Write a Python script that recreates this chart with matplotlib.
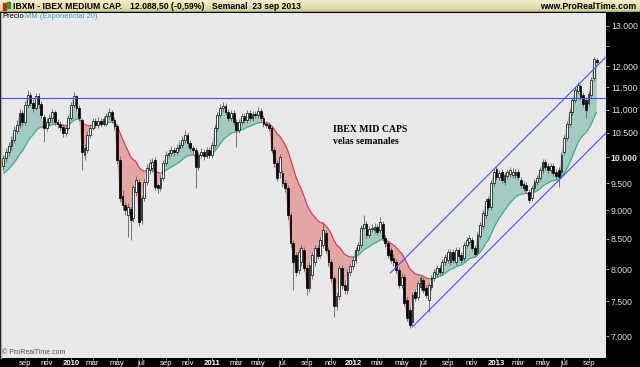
import numpy as np
import pandas as pd
import matplotlib
matplotlib.use("Agg")
import matplotlib.pyplot as plt
import matplotlib.dates as mdates
from matplotlib.collections import LineCollection
from matplotlib.patches import Rectangle
from matplotlib.ticker import NullLocator
from matplotlib.colors import LinearSegmentedColormap

# ---------------- data ----------------
start_date = "2009-07-13"
n_weeks = 220
dates = pd.date_range(start_date, periods=n_weeks, freq="7D")

open_ = [
    9830, 9985, 10110, 10230, 10350, 10540, 10665, 10925, 10730, 11100,
    11325, 11145, 11035, 11305, 11125, 10840, 10605, 10730, 10815, 10945,
    10730, 10690, 10625, 10500, 10605, 10815, 11100, 11305, 11035, 10775,
    10045, 10150, 10455, 10605, 10755, 10665, 10755, 10690, 10690, 10860, 10945,
    10775, 10645, 9945, 9260, 9095, 8915, 9020, 8860, 9330, 9520,
    8825, 9220, 9520, 9750, 9790, 9945, 9465, 9405, 9595, 9890,
    10045, 10085, 10150, 10110, 10190, 10250, 10350, 10455, 10290, 10190,
    10150, 9810, 10045, 10110, 10025, 10150, 10045, 10250, 10605, 10880,
    11035, 11080, 10945, 10815, 10925, 10730, 10560, 10730, 10860, 10775,
    10925, 10815, 10905, 10880, 10970, 10815, 10690, 10665, 10605, 10150,
    9890, 9710, 9695, 9500, 9405, 8915, 8430, 8230, 7985, 8115,
    8310, 8020, 7705, 7905, 8115, 8345, 8230, 8395, 8600, 8310, 8115,
    7860, 7430, 7585, 8020, 7750, 7675, 7955, 8050, 8145, 8310,
    8395, 8685, 8755, 8565, 8665, 8650, 8700, 8650, 8755, 8515,
    8430, 8310, 8180, 8115, 7985, 7750, 7875, 7520, 7375, 7200,
    7645, 7570, 7720, 7830, 7705, 7520, 7720, 7860, 7925, 8020,
    7955, 8115, 8145, 8115, 8280, 8115, 8310, 8230, 8180, 8395,
    8445, 8480, 8345, 8280, 8545, 8720, 8915, 9200, 9055, 9500,
    9770, 9615, 9710, 9520, 9635, 9675, 9655, 9655, 9710, 9560, 9480,
    9465, 9330, 9220, 9405, 9520, 9595, 9750, 9905, 9830, 9750,
    9830, 9710, 9750, 9710, 10110, 10395, 10690, 10945, 11215, 11415,
    11530, 11325, 11215, 11145, 11325, 11715, 12140,
]
high = [
    10045, 10190, 10310, 10435, 10645, 10775, 11015, 10990, 11190, 11440,
    11395, 11235, 11370, 11370, 11190, 10905, 10815, 10905, 11015, 10990,
    10795, 10755, 10690, 10665, 10880, 11170, 11395, 11325, 11100, 10815,
    10290, 10540, 10690, 10815, 10815, 10840, 10815, 10860, 10925, 11035, 10990,
    10840, 10690, 10025, 9370, 9150, 9130, 9075, 9480, 9635, 9575,
    9275, 9595, 9870, 9965, 9985, 10005, 9500, 9655, 9945, 10130,
    10170, 10230, 10210, 10270, 10330, 10435, 10560, 10520, 10350, 10250,
    10210, 10110, 10190, 10170, 10210, 10210, 10310, 10665, 10945, 11125,
    11170, 11145, 11015, 10990, 10990, 10795, 10795, 10925, 10925, 10990,
    10990, 10970, 10970, 11055, 11035, 10880, 10755, 10730, 10645, 10210,
    9945, 10065, 9750, 9560, 9465, 8965, 8480, 8280, 8330, 8395,
    8360, 8065, 8115, 8280, 8395, 8395, 8545, 8790, 8650, 8360, 8165,
    7905, 7645, 8065, 8065, 7830, 8000, 8100, 8215, 8360, 8445,
    8735, 8915, 8805, 8720, 8755, 8770, 8755, 8875, 8805, 8565,
    8480, 8360, 8245, 8165, 8035, 7940, 7925, 7570, 7415, 7645,
    7690, 7830, 7905, 7875, 7750, 7795, 7905, 8000, 8065, 8065,
    8165, 8245, 8330, 8330, 8330, 8360, 8360, 8280, 8445, 8530,
    8565, 8530, 8395, 8615, 8790, 9000, 9220, 9260, 9560, 9790,
    9830, 9750, 9770, 9710, 9770, 9810, 9790, 9770, 9770, 9615, 9540,
    9520, 9390, 9465, 9575, 9655, 9810, 9965, 9965, 9890, 9890,
    9890, 9770, 9810, 10110, 10455, 10755, 11015, 11280, 11505, 11625,
    11575, 11395, 11280, 11415, 11740, 12210, 12195,
]
low = [
    9750, 9905, 10025, 10150, 10290, 10475, 10605, 10645, 10665, 11035,
    11080, 10945, 10990, 11035, 10815, 10310, 10540, 10645, 10710, 10665,
    10605, 10540, 10415, 10435, 10560, 10775, 11035, 10970, 10755, 9750,
    9945, 10085, 10395, 10560, 10605, 10605, 10625, 10645, 10645, 10795, 10710,
    10560, 9870, 9150, 9000, 8915, 8530, 8480, 8790, 9260, 8720,
    8755, 9165, 9465, 9675, 9710, 9370, 9315, 9350, 9540, 9830,
    9985, 10025, 10025, 10045, 10130, 10190, 10290, 10210, 10130, 10065,
    9405, 9750, 9985, 9945, 9985, 9985, 9985, 10190, 10540, 10815,
    10945, 10880, 10755, 10755, 10665, 10210, 10500, 10665, 10710, 10710,
    10755, 10755, 10815, 10815, 10755, 10625, 10605, 10540, 10085, 9810,
    9540, 9595, 9425, 9330, 8840, 8360, 7675, 7890, 7925, 8050,
    7970, 7600, 7645, 7845, 8050, 8165, 8180, 8345, 8260, 8050, 7795,
    7270, 7375, 7520, 7690, 7615, 7615, 7890, 7985, 8100, 8260,
    8345, 8650, 8515, 8515, 8615, 8600, 8565, 8600, 8460, 8360,
    8180, 8100, 8050, 7940, 7705, 7705, 7430, 7215, 7115, 7155,
    7505, 7520, 7675, 7630, 7555, 7345, 7675, 7815, 7875, 7905,
    7905, 8065, 8100, 8065, 8100, 8065, 8165, 8100, 8130, 8345,
    8395, 8295, 8195, 8230, 8495, 8665, 8860, 9000, 9000, 9445,
    9560, 9560, 9500, 9465, 9575, 9615, 9595, 9595, 9560, 9405, 9350,
    9315, 9130, 9165, 9350, 9465, 9540, 9695, 9750, 9695, 9695,
    9635, 9575, 9425, 9655, 10045, 10330, 10625, 10880, 11145, 11350,
    11215, 11055, 10815, 11080, 11260, 11645, 12060,
]
close = [
    9985, 10110, 10230, 10350, 10560, 10665, 10925, 10730, 11100, 11325,
    11145, 11035, 11305, 11125, 10880, 10605, 10730, 10815, 10945, 10730,
    10690, 10625, 10500, 10605, 10815, 11100, 11305, 11035, 10815, 10110,
    10190, 10455, 10605, 10755, 10665, 10755, 10690, 10795, 10860, 10945, 10775,
    10645, 9945, 9220, 9095, 9000, 9055, 8825, 9425, 9560, 8790,
    9220, 9520, 9790, 9890, 9905, 9425, 9405, 9595, 9890, 10045,
    10085, 10150, 10110, 10190, 10250, 10350, 10455, 10290, 10190, 10150,
    9810, 10045, 10110, 10025, 10150, 10045, 10250, 10605, 10880, 11035,
    11080, 10945, 10815, 10925, 10730, 10560, 10730, 10860, 10775, 10925,
    10815, 10905, 10880, 10970, 10815, 10690, 10665, 10605, 10150, 9890,
    9595, 10005, 9500, 9405, 8915, 8430, 8115, 7955, 8280, 8345,
    8020, 7705, 8065, 8230, 8345, 8215, 8480, 8650, 8310, 8115, 7860,
    7430, 7585, 8020, 7750, 7675, 7955, 8050, 8145, 8310, 8395,
    8685, 8755, 8565, 8665, 8685, 8700, 8615, 8790, 8515, 8430,
    8230, 8145, 8115, 7985, 7750, 7875, 7475, 7255, 7155, 7600,
    7555, 7780, 7860, 7675, 7600, 7750, 7860, 7955, 8020, 7955,
    8115, 8195, 8280, 8280, 8145, 8310, 8215, 8145, 8395, 8480,
    8515, 8345, 8245, 8565, 8735, 8950, 9165, 9055, 9500, 9710,
    9615, 9695, 9560, 9655, 9710, 9750, 9710, 9710, 9615, 9465, 9405,
    9370, 9185, 9405, 9520, 9595, 9750, 9905, 9810, 9750, 9830,
    9695, 9635, 9615, 10045, 10395, 10690, 10945, 11215, 11440, 11555,
    11280, 11125, 10990, 11350, 11670, 12160, 12088,
]
ema_seed = 9650          # EMA(20) value before the first bar
resistance = 11250
upper_channel_dates = ["2012-04-08", "2013-10-17"]
upper_channel_vals = [7940, 12220]
lower_channel_dates = ["2012-06-04", "2013-10-17"]
lower_channel_vals = [7130, 10500]
y_ticks = [7000, 7500, 8000, 8500, 9000, 9500, 10000, 10500, 11000, 11500, 12000, 12500, 13000]
y_tick_labels = ["7.000", "7.500", "8.000", "8.500", "9.000", "9.500", "10.000", "10.500",
                 "11.000", "11.500", "12.000", "", "13.000"]
month_names = ["ene", "feb", "mar", "abr", "may", "jun", "jul", "ago", "sep", "oct", "nov", "dic"]

# ---------------- figure ----------------
W, H = 640, 367
fig = plt.figure(figsize=(W / 100, H / 100), dpi=100, facecolor="black")


def fx(px):
    return px / W


def fy(py):
    return 1 - py / H


ax = fig.add_axes([fx(1), fy(358), (606 - 1) / W, (358 - 13) / H])
ax.set_facecolor("#e8e8e8")

x = mdates.date2num(dates)
o = np.array(open_, float)
h = np.array(high, float)
l = np.array(low, float)
c = np.array(close, float)
ema = pd.Series([ema_seed] + close, dtype=float).ewm(span=20, adjust=False).mean().to_numpy()[1:]

ax.set_yscale("log")
ax.set_ylim(6700, 13340)
ax.set_xlim(mdates.date2num(pd.Timestamp("2009-07-07")), mdates.date2num(pd.Timestamp("2013-10-17")))

above = c >= ema
ax.fill_between(x, c, ema, where=above, interpolate=True, color="#a3c9c3", lw=0, zorder=1)
ax.fill_between(x, c, ema, where=~above, interpolate=True, color="#e4a5a5", lw=0, zorder=1)

pts = np.column_stack([x, ema])
segs = np.stack([pts[:-1], pts[1:]], axis=1)
cols = ["#35ad8c" if a else "#d83a55" for a in above[1:]]
ax.add_collection(LineCollection(segs, colors=cols, linewidths=0.9, zorder=2))

# candles
up = c >= o
ax.vlines(x, l, h, color="#606060", lw=0.6, zorder=3)
bot = np.minimum(o, c)
top = np.maximum(o, c)
hgt = np.maximum(top - bot, 8)
bw = 4.6
ax.bar(x[up], hgt[up], width=bw, bottom=bot[up], color="white", edgecolor="black", linewidth=0.5, zorder=4)
ax.bar(x[~up], hgt[~up], width=bw, bottom=bot[~up], color="black", edgecolor="black", linewidth=0.5, zorder=4)

# lines
ax.axhline(resistance, color="#4b4bff", lw=0.8, zorder=5)
ax.plot(pd.to_datetime(upper_channel_dates), upper_channel_vals, color="#4b4bff", lw=0.8, zorder=5)
ax.plot(pd.to_datetime(lower_channel_dates), lower_channel_vals, color="#4b4bff", lw=0.8, zorder=5)

# y axis on the right
ax.yaxis.tick_right()
ax.set_yticks(y_ticks, labels=y_tick_labels)
ax.yaxis.set_minor_locator(NullLocator())
ax.tick_params(axis="y", colors="#c8c8c8", labelcolor="#e0e0e0", labelsize=6.3, length=2, pad=1.5, width=0.6)
for lbl in ax.get_yticklabels():
    lbl.set_fontfamily("Liberation Sans")
    if lbl.get_text() == "10.000":
        lbl.set_fontweight("bold")

# x axis: first weekly bar of each odd month (the partial first month is skipped)
tick_pos, tick_lab = [], []
prev_m = dates[0].month
for d, xv in zip(dates, x):
    if d.month != prev_m and d.month % 2 == 1:
        tick_pos.append(xv)
        tick_lab.append(str(d.year) if d.month == 1 else month_names[d.month - 1])
    prev_m = d.month
ax.set_xticks(tick_pos, labels=tick_lab)
ax.xaxis.set_minor_locator(NullLocator())
ax.tick_params(axis="x", colors="#b0b0b0", labelcolor="white", labelsize=5.6, length=1.5, pad=0.2, width=0.6)
for lbl in ax.get_xticklabels():
    lbl.set_fontfamily("Liberation Sans")
    if lbl.get_text().isdigit():
        lbl.set_fontweight("bold")

for s in ["top", "right", "bottom"]:
    ax.spines[s].set_visible(False)
ax.spines["left"].set_color("#b4b4a4")
ax.spines["left"].set_linewidth(1.0)

# annotation inside chart
fig.text(fx(333), fy(130), "IBEX MID CAPS", family="Liberation Serif", weight="bold", fontsize=7, va="center")
fig.text(fx(333), fy(141), "velas semanales", family="Liberation Serif", weight="bold", fontsize=7, va="center")

# legend line
fig.text(fx(2), fy(17), "Precio", family="Liberation Sans", fontsize=5.5, va="center", color="black")
fig.text(fx(25), fy(17), "MM (Exponencial 20)", family="Liberation Sans", fontsize=5.5, va="center", color="#3aa5a5")
fig.text(fx(2), fy(352), "© ProRealTime.com", family="Liberation Sans", fontsize=5, va="center", color="#505050")

# title bar
axt = fig.add_axes([0, fy(12), 1, 12 / H])
grad = np.linspace(0, 1, 50).reshape(-1, 1)
cm = LinearSegmentedColormap.from_list("bar", ["#f2eecb", "#d6cf9c"])
axt.imshow(grad, aspect="auto", cmap=cm, extent=[0, 1, 0, 1], origin="upper")
axt.set_axis_off()
axt.add_patch(Rectangle((0, 0), 1, 0.06, transform=axt.transAxes, color="#a9a274"))
axt.add_patch(Rectangle((3 / W, 0.2), 3 / W, 0.55, transform=axt.transAxes, color="#d02020"))
axt.add_patch(Rectangle((7 / W, 0.3), 3 / W, 0.55, transform=axt.transAxes, color="#20a020"))
tfont = dict(family="Liberation Sans", weight="bold", fontsize=6.2, va="center")
fig.text(fx(13), fy(6.5), "IBXM - IBEX MEDIUM CAP.", **tfont)
fig.text(fx(130), fy(6.5), "12.088,50 (-0,59%)", **tfont)
fig.text(fx(212), fy(6.5), "Semanal  23 sep 2013", **tfont)
fig.text(fx(636), fy(6.5), "www.ProRealTime.com", ha="right", **tfont)

fig.savefig("out.png", dpi=100, facecolor="black")
